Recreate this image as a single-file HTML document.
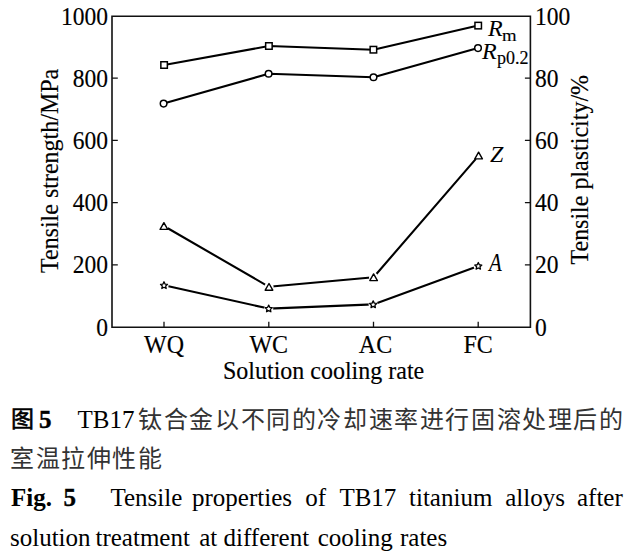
<!DOCTYPE html>
<html lang="zh-CN">
<head>
<meta charset="utf-8">
<style>
html,body{margin:0;padding:0;background:#fff;}
body{width:634px;height:554px;position:relative;overflow:hidden;}
svg{position:absolute;left:0;top:0;overflow:visible;}
svg text{font-family:"Liberation Serif",serif;fill:#000;stroke:#000;stroke-width:0.15px;}
.capt text{stroke:none;}
.cjk{fill:#333;stroke:none;}
.cap{position:absolute;left:0;font-family:"Liberation Serif",serif;color:#000;white-space:nowrap;}
</style>
</head>
<body>
<svg width="634" height="390" viewBox="0 0 634 390">
  <!-- axes box -->
  <g stroke="#111" stroke-width="1.6" fill="none" stroke-linecap="square">
    <path d="M112 16.2 H530.4 V327.3 H112 Z"/>
  </g>
  <!-- ticks -->
  <g stroke="#111" stroke-width="1.3">
    <path d="M112 78.2h5.8M112 140.4h5.8M112 202.6h5.8M112 264.8h5.8"/>
    <path d="M530.4 78.2h-5.5M530.4 140.4h-5.5M530.4 202.6h-5.5M530.4 264.8h-5.5"/>
    <path d="M164 327v-5.2M268.8 327v-5.2M373.5 327v-5.2M478.2 327v-5.2"/>
  </g>
  <!-- left labels -->
  <g font-size="24" text-anchor="end">
    <text transform="translate(108,24.8) scale(0.98,1.08)">1000</text>
    <text transform="translate(108,86.8) scale(0.98,1.08)">800</text>
    <text transform="translate(108,149) scale(0.98,1.08)">600</text>
    <text transform="translate(108,211.2) scale(0.98,1.08)">400</text>
    <text transform="translate(108,273.2) scale(0.98,1.08)">200</text>
    <text transform="translate(108,335.8) scale(0.98,1.08)">0</text>
  </g>
  <g font-size="24">
    <text transform="translate(535,24.8) scale(0.98,1.08)">100</text>
    <text transform="translate(535,86.8) scale(0.98,1.08)">80</text>
    <text transform="translate(535,149) scale(0.98,1.08)">60</text>
    <text transform="translate(535,211.2) scale(0.98,1.08)">40</text>
    <text transform="translate(535,273.2) scale(0.98,1.08)">20</text>
    <text transform="translate(535,335.8) scale(0.98,1.08)">0</text>
  </g>
  <g font-size="24" text-anchor="middle">
    <text transform="translate(164,352.6) scale(1,1.05)">WQ</text>
    <text transform="translate(268.8,352.6) scale(1,1.05)">WC</text>
    <text transform="translate(375.5,352.6) scale(1,1.05)">AC</text>
    <text transform="translate(478.2,352.6) scale(1,1.05)">FC</text>
  </g>
  <text font-size="24" transform="translate(223,379.2) scale(1,1.05)">Solution cooling rate</text>
  <text font-size="24" transform="translate(58,273) rotate(-90) scale(1,1.07)">Tensile strength/MPa</text>
  <text font-size="24" transform="translate(588.2,264.5) rotate(-90) scale(1,1.07)">Tensile plasticity/%</text>

  <!-- data lines -->
  <g stroke="#000" stroke-width="2.1" fill="none" stroke-linejoin="round">
    <polyline points="164.1,65 268.9,46 373.4,49.7 478.2,25.6"/>
    <polyline points="163.6,103.6 268.6,73.8 373.5,77.2 478,48.1"/>
    <polyline points="163.9,226 269,286.8 373.6,277.2 478.7,155.6"/>
    <polyline points="164,285.3 268.7,308.6 373.2,304.4 478.4,266"/>
  </g>
  <!-- markers -->
  <g stroke="#000" stroke-width="1.5" fill="#fff">
    <rect x="160.85" y="61.75" width="6.5" height="6.5"/>
    <rect x="265.65" y="42.75" width="6.5" height="6.5"/>
    <rect x="370.15" y="46.45" width="6.5" height="6.5"/>
    <rect x="474.95" y="22.35" width="6.5" height="6.5"/>
    <circle cx="163.6" cy="103.6" r="3.3"/>
    <circle cx="268.6" cy="73.8" r="3.3"/>
    <circle cx="373.5" cy="77.2" r="3.3"/>
    <circle cx="478" cy="48.1" r="3.3"/>
  </g>
  <g fill="#fff" stroke="none">
    <circle cx="163.9" cy="226" r="4.6"/><circle cx="269" cy="286.8" r="4.6"/><circle cx="373.6" cy="277.2" r="4.6"/><circle cx="478.6" cy="155.5" r="4.6"/>
    <circle cx="164" cy="285.5" r="4.6"/><circle cx="268.7" cy="308.8" r="4.6"/><circle cx="373.2" cy="304.6" r="4.6"/><circle cx="478.3" cy="266.2" r="4.6"/>
  </g>
  <g stroke="#000" stroke-width="1.4" fill="#fff" stroke-linejoin="round">
    <path d="M0,-3.3 L3.8,3.4 L-3.8,3.4 Z" transform="translate(163.9,226)"/>
    <path d="M0,-3.3 L3.8,3.4 L-3.8,3.4 Z" transform="translate(269,286.8)"/>
    <path d="M0,-3.3 L3.8,3.4 L-3.8,3.4 Z" transform="translate(373.6,277.2)"/>
    <path d="M0,-3.3 L3.8,3.4 L-3.8,3.4 Z" transform="translate(478.6,155.5)"/>
  </g>
  <g stroke="#000" stroke-width="1.3" fill="#fff" stroke-linejoin="round">
    <path d="M0.00,-3.70 L1.06,-1.46 L3.52,-1.14 L1.71,0.56 L2.17,2.99 L0.00,1.80 L-2.17,2.99 L-1.71,0.56 L-3.52,-1.14 L-1.06,-1.46 Z" transform="translate(164,285.5)"/>
    <path d="M0.00,-3.70 L1.06,-1.46 L3.52,-1.14 L1.71,0.56 L2.17,2.99 L0.00,1.80 L-2.17,2.99 L-1.71,0.56 L-3.52,-1.14 L-1.06,-1.46 Z" transform="translate(268.7,308.8)"/>
    <path d="M0.00,-3.70 L1.06,-1.46 L3.52,-1.14 L1.71,0.56 L2.17,2.99 L0.00,1.80 L-2.17,2.99 L-1.71,0.56 L-3.52,-1.14 L-1.06,-1.46 Z" transform="translate(373.2,304.6)"/>
    <path d="M0.00,-3.70 L1.06,-1.46 L3.52,-1.14 L1.71,0.56 L2.17,2.99 L0.00,1.80 L-2.17,2.99 L-1.71,0.56 L-3.52,-1.14 L-1.06,-1.46 Z" transform="translate(478.3,266.2)"/>
  </g>
  <!-- series labels -->
  <text x="488" y="35.5" font-size="24" font-style="italic" style="stroke-width:0.05px">R</text>
  <text transform="translate(502,40.6) scale(1.04,0.88)" font-size="18">m</text>
  <text x="482" y="58.5" font-size="24" font-style="italic" style="stroke-width:0.05px">R</text>
  <text x="497" y="64" font-size="18">p0.2</text>
  <text x="490" y="162.3" font-size="24" font-style="italic" style="stroke-width:0.05px">Z</text>
  <text transform="translate(488.9,270.8) scale(0.87,1.04)" font-size="24" font-style="italic" style="stroke-width:0.05px">A</text>
</svg>

<svg class="capt" width="634" height="164" viewBox="0 390 634 164" style="top:390px">
  <g font-size="25">
    <text x="11.2" y="427.3" font-size="23" style="stroke:#000;stroke-width:0.6px">图</text>
    <text x="39" y="428" font-weight="bold" style="stroke:#000;stroke-width:0.4px">5</text>
    <text x="77.5" y="428">TB17</text>
    <text class="cjk" x="138.3" y="428.2" font-size="24" letter-spacing="1.6">钛合金以不同的冷却速率进行固溶处理后的</text>
    <text class="cjk" x="10.4" y="467.4" font-size="24" letter-spacing="1.5">室温拉伸性能</text>
    <text x="11" y="506" font-weight="bold">Fig.</text>
    <text x="63.5" y="506" font-weight="bold" style="stroke:#000;stroke-width:0.35px">5</text>
    <text x="110.5" y="505.5">Tensile</text>
    <text x="192" y="505.5">properties</text>
    <text x="305.2" y="505.5">of</text>
    <text x="339.4" y="505.5">TB17</text>
    <text x="409" y="505.5">titanium</text>
    <text x="505.2" y="505.5">alloys</text>
    <text x="577" y="505.5">after</text>
    <text x="10" y="545.5">solution</text>
    <text x="95.5" y="545.5">treatment</text>
    <text x="199.2" y="545.5">at</text>
    <text x="223.5" y="545.5">different</text>
    <text x="317.7" y="545.5">cooling</text>
    <text x="400" y="545.5">rates</text>
  </g>
</svg>
</body>
</html>
